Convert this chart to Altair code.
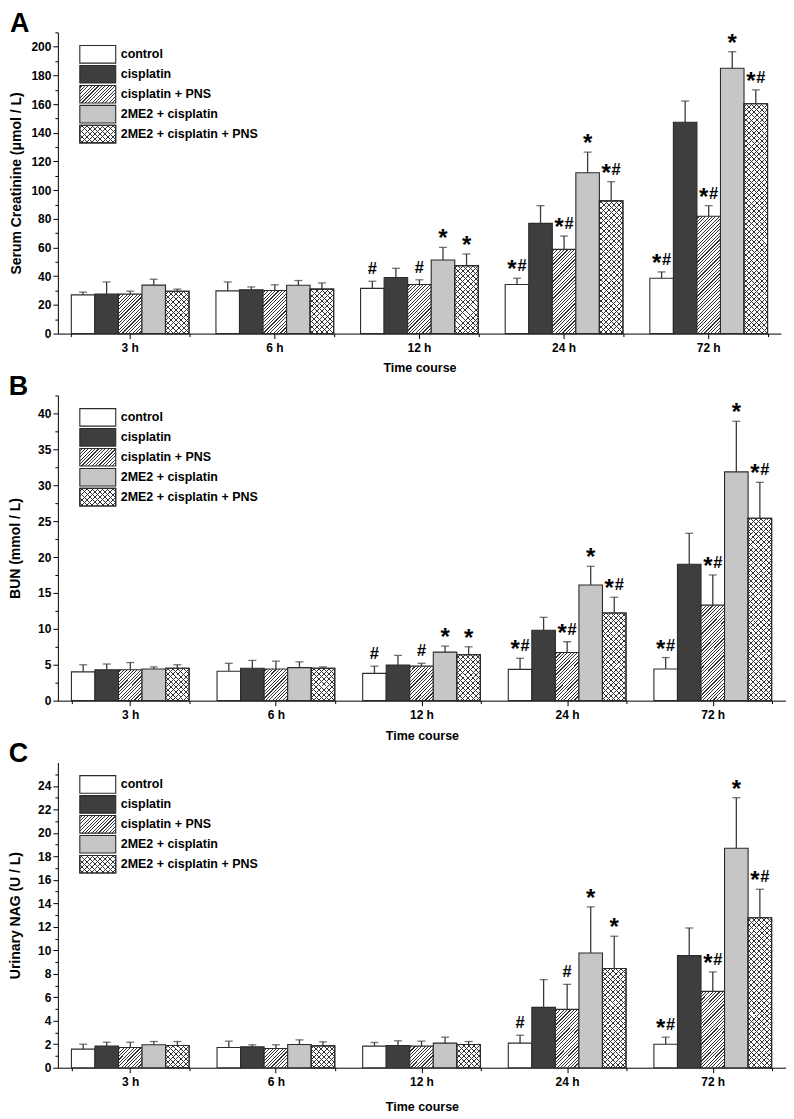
import altair as alt

FONT = "Liberation Sans"

times = ["3 h", "6 h", "12 h", "24 h", "72 h"]
groups = ["control", "cisplatin", "cisplatin + PNS", "2ME2 + cisplatin", "2ME2 + cisplatin + PNS"]

# ---- Panel A: Serum creatinine (umol/L); one list per group over the 5 time points
creat_mean = [
    [27.0, 29.8, 31.5, 34.2, 38.6],
    [27.6, 30.5, 39.1, 76.8, 147.3],
    [27.5, 30.0, 34.2, 58.7, 81.8],
    [33.8, 33.7, 51.3, 112.1, 185.0],
    [29.5, 31.0, 47.4, 92.5, 160.2],
]
creat_upper = [
    [28.9, 36.0, 36.5, 38.6, 43.0],
    [36.0, 32.5, 45.5, 89.2, 162.1],
    [29.6, 34.0, 37.5, 68.0, 89.2],
    [37.9, 37.0, 60.1, 126.5, 196.5],
    [31.0, 35.3, 55.5, 105.9, 169.9],
]
# ---- Panel B: BUN (mmol/L)
bun_mean = [
    [4.0, 4.1, 3.8, 4.35, 4.4],
    [4.3, 4.5, 4.95, 9.8, 19.0],
    [4.3, 4.4, 4.8, 6.7, 13.3],
    [4.4, 4.6, 6.76, 16.1, 31.85],
    [4.5, 4.5, 6.4, 12.2, 25.4],
]
bun_upper = [
    [5.0, 5.2, 4.8, 5.9, 6.0],
    [5.1, 5.6, 6.3, 11.6, 23.3],
    [5.3, 5.5, 5.2, 8.2, 17.5],
    [4.7, 5.4, 7.6, 18.7, 38.9],
    [5.0, 4.7, 7.5, 14.4, 30.4],
]
# ---- Panel C: urinary NAG (U/L)
nag_mean = [
    [1.58, 1.72, 1.84, 2.09, 2.0],
    [1.84, 1.78, 1.89, 5.14, 9.55],
    [1.72, 1.64, 1.84, 4.97, 6.5],
    [1.95, 1.98, 2.09, 9.77, 18.7],
    [1.89, 1.86, 1.98, 8.45, 12.77],
]
nag_upper = [
    [2.0, 2.26, 2.15, 2.77, 2.6],
    [2.17, 1.95, 2.29, 7.5, 11.9],
    [2.17, 1.95, 2.26, 7.1, 8.16],
    [2.23, 2.37, 2.6, 13.7, 23.0],
    [2.23, 2.2, 2.23, 11.2, 15.2],
]
# significance marks
sig_ab = [
    ["", "", "#", "*#", "*#"],
    ["", "", "", "", ""],
    ["", "", "#", "*#", "*#"],
    ["", "", "*", "*", "*"],
    ["", "", "*", "*#", "*#"],
]
sig_c = [
    ["", "", "", "#", "*#"],
    ["", "", "", "", ""],
    ["", "", "", "#", "*#"],
    ["", "", "", "*", "*"],
    ["", "", "", "*", "*#"],
]

# ---- styling
LINE = "#333333"
STROKE = "#2b2b2b"
ERR = "#3a3a3a"
PAD_IN = 0.186


def stripes(w, h, period, lw, direction, bg, fg):
    """Linear gradient drawing 45-degree hatch lines inside a w x h box."""
    h = max(h, 0.5)
    L = (w * w + h * h) / w
    lam = (w + h) / L * 1.02
    span = lam * L
    stops = [{"offset": 0, "color": bg}]
    s = period * 0.5
    while s < w + h:
        a = round(min(s / span, 1), 5)
        b = round(min((s + lw) / span, 1), 5)
        stops += [
            {"offset": a, "color": bg},
            {"offset": a, "color": fg},
            {"offset": b, "color": fg},
            {"offset": b, "color": bg},
        ]
        s += period
    stops.append({"offset": 1, "color": bg})
    if direction == "/":
        return {"gradient": "linear", "x1": 0, "y1": 0, "x2": round(lam, 5),
                "y2": round(lam * h / w, 5), "stops": stops}
    return {"gradient": "linear", "x1": 0, "y1": 1, "x2": round(lam, 5),
            "y2": round(1 - lam * h / w, 5), "stops": stops}


def fills(gi, w, h):
    if gi == 0:
        return "white", None
    if gi == 1:
        return "#3e3e3e", None
    if gi == 2:
        return stripes(w, h, 3.4, 1.15, "/", "white", LINE), None
    if gi == 3:
        return "#c6c6c6", None
    return (stripes(w, h, 5.2, 1.0, "/", "white", LINE),
            stripes(w, h, 5.2, 1.0, "\\", "transparent", LINE))


def panel(letter, ytitle, ymax, majors, minors, H, W, means, uppers, sigs,
          ytitle_pad, xtitle_pad):
    ky = H / ymax
    bw = W / 5 * (1 - PAD_IN) / 5
    recs = []
    for gi, g in enumerate(groups):
        for ti, t in enumerate(times):
            f1, f2 = fills(gi, bw, means[gi][ti] * ky)
            recs.append({"time": t, "group": g, "mean": means[gi][ti],
                         "upper": uppers[gi][ti], "sig": sigs[gi][ti],
                         "f1": f1, "f2": f2})
    base = alt.Chart(alt.Data(values=recs))

    xscale = alt.Scale(paddingInner=PAD_IN, paddingOuter=PAD_IN / 2)
    yscale = alt.Scale(domain=[0, ymax], nice=False, zero=True)
    xo = alt.XOffset("group:N", sort=groups, scale=alt.Scale(paddingInner=0, paddingOuter=0))

    def X(axis):
        return alt.X("time:N", sort=times, scale=xscale, axis=axis)

    x_major = alt.Axis(title="Time course", orient="bottom", labelAngle=0, tickSize=5,
                       labelPadding=4, titlePadding=xtitle_pad, labelFontSize=12,
                       titleFontSize=12.5, domainColor="black", domainWidth=1)
    x_minor = alt.Axis(title=None, orient="bottom", labels=False, tickBand="extent",
                       tickSize=3, domain=False)
    y_major = alt.Axis(title=ytitle, orient="left", values=majors, tickSize=5,
                       labelPadding=2, titlePadding=ytitle_pad, labelFontSize=12,
                       titleFontSize=14, domainColor="black", domainWidth=1)
    y_minor = alt.Axis(title=None, orient="left", values=minors, labels=False,
                       tickSize=3, domain=False)

    bars = base.mark_bar(stroke=STROKE, strokeWidth=1.1).encode(
        x=X(x_major), xOffset=xo,
        y=alt.Y("mean:Q", scale=yscale, axis=y_major),
        fill=alt.Fill("f1:N", scale=None),
    )
    over = base.transform_filter(alt.datum.group == groups[4]).mark_bar(
        stroke=STROKE, strokeWidth=1.1).encode(
        x=X(None), xOffset=xo,
        y=alt.Y("mean:Q", scale=yscale, axis=None),
        fill=alt.Fill("f2:N", scale=None),
    )
    rules = base.mark_rule(color=ERR, strokeWidth=1.3).encode(
        x=X(x_minor), xOffset=xo,
        y=alt.Y("mean:Q", scale=yscale, axis=y_minor), y2="upper:Q",
    )
    caps = base.mark_tick(orient="horizontal", size=8, thickness=1.3, color=ERR).encode(
        x=X(None), xOffset=xo,
        y=alt.Y("upper:Q", scale=yscale, axis=None),
    )

    def sig_layer(sig, glyph, size, dx, dy):
        return base.transform_filter(alt.datum.sig == sig).mark_text(
            text=glyph, font=FONT, fontSize=size, fontWeight="bold",
            baseline="alphabetic", dx=dx, dy=dy, color="black").encode(
            x=X(None), xOffset=xo,
            y=alt.Y("upper:Q", scale=yscale, axis=None),
        )

    star1 = sig_layer("*", "*", 24, 0, -1)
    star2 = sig_layer("*#", "*", 24, -5, -1)
    hash1 = sig_layer("#", "#", 16.5, 0, -7)
    hash2 = sig_layer("*#", "#", 16.5, 5, -7)

    # legend (drawn as marks so that the hatch patterns show)
    lrecs = []
    for gi, g in enumerate(groups):
        f1, f2 = fills(gi, 36, 17.6)
        lrecs.append({"row": gi, "label": g, "f1": f1, "f2": f2})
    lbase = alt.Chart(alt.Data(values=lrecs))
    ls = alt.Scale(domain=[0, 1, 2, 3, 4], range=[12, 112], paddingInner=0.12,
                   paddingOuter=0.06)
    lrect = lbase.mark_rect(stroke=STROKE, strokeWidth=1.1).encode(
        x=alt.value(22), x2=alt.value(58),
        y=alt.Y("row:O", axis=None, scale=ls),
        fill=alt.Fill("f1:N", scale=None),
    )
    lover = lbase.transform_filter(alt.datum.row == 4).mark_rect(
        stroke=STROKE, strokeWidth=1.1).encode(
        x=alt.value(22), x2=alt.value(58),
        y=alt.Y("row:O", axis=None, scale=ls),
        fill=alt.Fill("f2:N", scale=None),
    )
    ltext = lbase.mark_text(font=FONT, fontSize=12.5, fontWeight="bold", align="left",
                            baseline="middle", color="black").encode(
        x=alt.value(63),
        y=alt.Y("row:O", axis=None, scale=ls),
        text="label:N",
    )

    return alt.layer(bars, over, rules, caps, star1, star2, hash1, hash2,
                     lrect, lover, ltext).resolve_scale(
        y="independent").resolve_axis(x="independent", y="independent").properties(
        width=W, height=H,
        title=alt.TitleParams(letter, anchor="start", frame="bounds", fontSize=27,
                              fontWeight="bold", font=FONT, offset=-6, color="black"),
    )


pA = panel("A", "Serum Creatinine (\u03bcmol / L)", 210,
           list(range(0, 201, 20)), list(range(10, 211, 20)), 302, 725,
           creat_mean, creat_upper, sig_ab, 7, 8)
pB = panel("B", "BUN (mmol / L)", 42.5,
           [0, 5, 10, 15, 20, 25, 30, 35, 40], [2.5, 7.5, 12.5, 17.5, 22.5, 27.5, 32.5, 37.5, 42.5],
           306, 730, bun_mean, bun_upper, sig_ab, 15, 9)
pC = panel("C", "Urinary NAG (U / L)", 26,
           list(range(0, 25, 2)), list(range(1, 26, 2)), 306, 730,
           nag_mean, nag_upper, sig_c, 15, 13)

chart = alt.vconcat(pA, pB, pC, spacing=62, bounds="flush").properties(
    padding={"left": 0, "top": 0, "right": 0, "bottom": 0}
).configure_axis(
    labelFont=FONT, titleFont=FONT, labelFontWeight="bold", titleFontWeight="bold",
    labelColor="black", titleColor="black", tickColor="black", grid=False,
).configure_view(stroke=None)

chart.save("out.html", embed_options={"renderer": "svg", "actions": False})
